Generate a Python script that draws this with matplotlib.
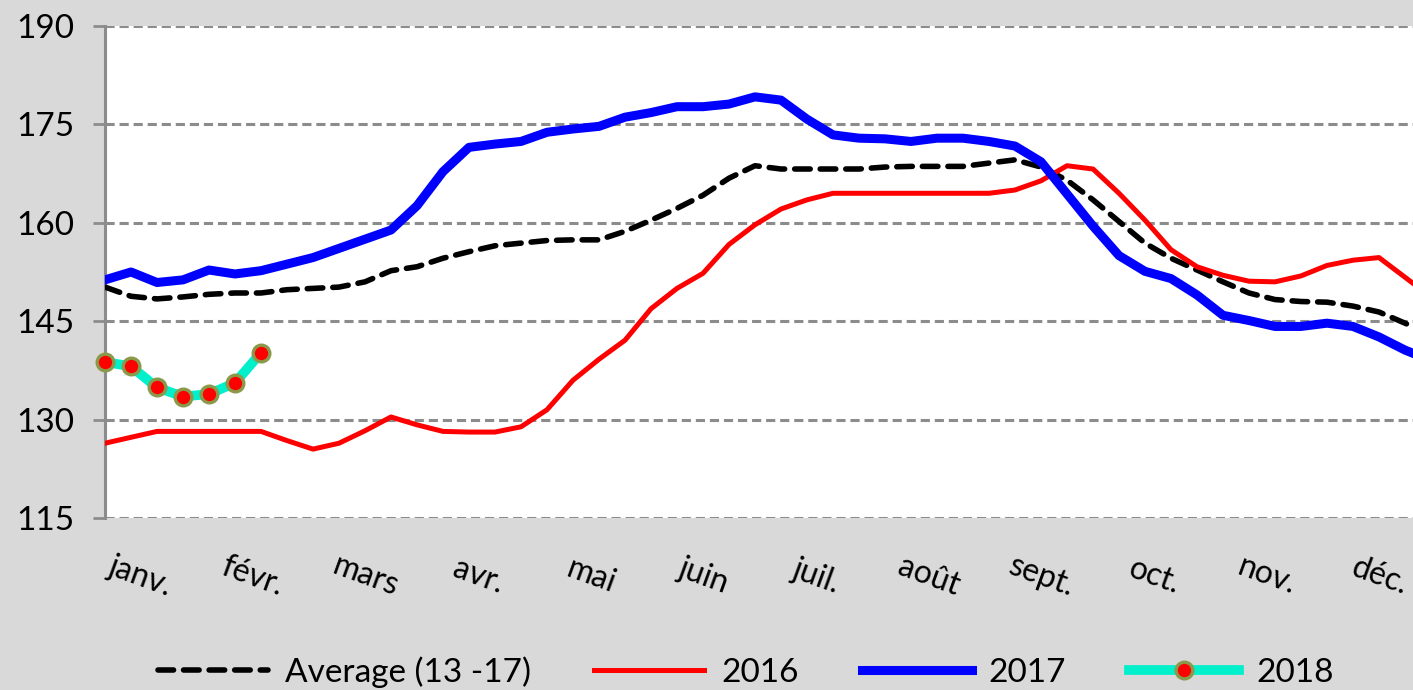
import numpy as np
import matplotlib
matplotlib.use("Agg")
import matplotlib.pyplot as plt

plt.rcParams['font.family'] = ['Lato', 'DejaVu Sans']

# weekly values, week 1 .. 52
avg = [150.2, 148.8, 148.4, 148.7, 149.1, 149.3, 149.3, 149.8, 150.0, 150.2,
       151.0, 152.7, 153.3, 154.6, 155.6, 156.5, 156.9, 157.3, 157.4, 157.4,
       158.7, 160.4, 162.2, 164.2, 166.8, 168.7, 168.2, 168.2, 168.2, 168.2,
       168.5, 168.6, 168.6, 168.6, 169.1, 169.6, 168.5, 166.5, 163.5, 160.2,
       156.9, 154.6, 152.8, 151.0, 149.3, 148.3, 148.0, 147.9, 147.3, 146.4,
       144.7, 142.8]
y2016 = [126.4, 127.3, 128.2, 128.2, 128.2, 128.2, 128.2, 126.8, 125.5, 126.4,
         128.3, 130.4, 129.2, 128.2, 128.1, 128.1, 128.9, 131.5, 136.0, 139.2,
         142.1, 146.9, 150.0, 152.3, 156.7, 159.7, 162.1, 163.5, 164.5, 164.5,
         164.5, 164.5, 164.5, 164.5, 164.5, 165.0, 166.4, 168.7, 168.2, 164.5,
         160.4, 155.9, 153.3, 152.0, 151.1, 151.0, 151.9, 153.5, 154.3, 154.7,
         151.7, 148.7]
y2017 = [151.3, 152.5, 150.9, 151.3, 152.8, 152.2, 152.7, 153.7, 154.7, 156.1,
         157.5, 158.9, 162.6, 167.8, 171.5, 172.0, 172.4, 173.8, 174.3, 174.7,
         176.1, 176.8, 177.7, 177.7, 178.1, 179.2, 178.7, 175.8, 173.4, 172.9,
         172.8, 172.4, 172.9, 172.9, 172.4, 171.7, 169.3, 164.4, 159.5, 155.0,
         152.6, 151.5, 149.0, 145.9, 145.1, 144.2, 144.2, 144.7, 144.2, 142.6,
         140.6, 139.0]
y2018 = [138.8, 138.1, 134.9, 133.5, 133.9, 135.6, 140.2]

months = ['janv.', 'févr.', 'mars', 'avr.', 'mai', 'juin',
          'juil.', 'août', 'sept.', 'oct.', 'nov.', 'déc.']
yticks = [115, 130, 145, 160, 175, 190]

bg = '#d9d9d9'
fig = plt.figure(figsize=(14.13, 6.9), dpi=100, facecolor=bg)
ax = fig.add_axes([105 / 1413, 1 - 518 / 690, 1 - 105 / 1413, (518 - 26) / 690])
ax.set_facecolor('white')

weeks = np.arange(len(avg))
ax.plot(weeks, avg, color='black', lw=4.0, linestyle=(0, (2.8, 1.8)),
        dash_capstyle='round', label='Average (13 -17)', zorder=3)
ax.plot(weeks, y2016, color='#ff0000', lw=3.6, label='2016', zorder=4)
ax.plot(weeks, y2017, color='#0000ff', lw=6.5, label='2017', zorder=5)
ax.plot(np.arange(len(y2018)), y2018, color='#00f0cc', lw=7.0,
        marker='o', markersize=12, markerfacecolor='#ff0000',
        markeredgecolor='#8a9a4a', markeredgewidth=2.4, label='2018', zorder=6,
        clip_on=False)

ax.set_xlim(0, (1413 - 105) / 26)
ax.set_ylim(115, 190)
ax.set_yticks(yticks)
ax.yaxis.grid(True, color='#8c8c8c', linestyle=(0, (3, 1.6)), lw=2.2)
ax.set_axisbelow(True)
for s in ['top', 'right', 'bottom']:
    ax.spines[s].set_visible(False)
ax.spines['left'].set_color('#8c8c8c')
ax.spines['left'].set_linewidth(2.2)
ax.tick_params(axis='y', length=9, width=2.0, color='#8c8c8c',
               labelsize=24, pad=13)
ax.set_xticks([])

month_pos = 1.35 + np.arange(12) * 52 / 12
for xp, m in zip(month_pos, months):
    ax.text(xp, -0.118, m, transform=ax.get_xaxis_transform(),
            fontsize=23, rotation=-20, ha='center', va='center',
            rotation_mode='anchor', clip_on=False)

fig.legend(loc='center', bbox_to_anchor=(0.528, 0.026), ncol=4,
           frameon=False, fontsize=24, handlelength=3.3,
           columnspacing=1.9, handletextpad=0.5)

fig.savefig('out.png', dpi=100, facecolor=bg)
